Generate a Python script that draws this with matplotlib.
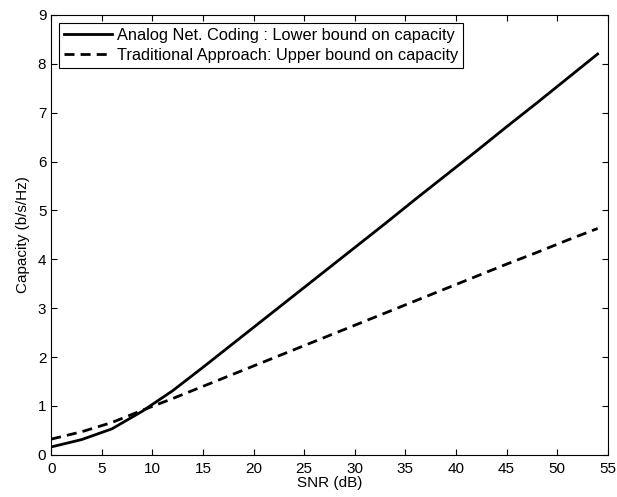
import numpy as np
from matplotlib import pyplot as plt

plt.rcParams['font.family'] = ['Liberation Sans', 'DejaVu Sans']

# SNR grid (dB) and capacities
snr_db = [0, 3, 6, 9, 12, 15, 18, 21, 24, 27, 30, 33, 36, 39, 42, 45, 48, 51, 54]
anc_lower = [0.16, 0.31, 0.53, 0.89, 1.31, 1.79, 2.28, 2.77, 3.26, 3.75,
             4.24, 4.73, 5.23, 5.72, 6.21, 6.71, 7.20, 7.70, 8.20]
trad_upper = [0.32, 0.47, 0.66, 0.91, 1.15, 1.40, 1.65, 1.90, 2.15, 2.40,
              2.65, 2.90, 3.15, 3.40, 3.65, 3.90, 4.14, 4.39, 4.63]

fig = plt.figure(figsize=(6.17, 4.97), dpi=100)
ax = fig.add_axes([0.083, 0.085, 0.902, 0.885])

ax.plot(snr_db, anc_lower, 'k-', lw=2, label='Analog Net. Coding : Lower bound on capacity')
ax.plot(snr_db, trad_upper, 'k--', lw=2, dashes=(3.6, 2.2),
        label='Traditional Approach: Upper bound on capacity')

ax.set_xlim(0, 55)
ax.set_ylim(0, 9)
ax.set_xticks(np.arange(0, 56, 5))
ax.set_yticks(np.arange(0, 10, 1))
ax.tick_params(direction='in', top=True, right=True, labelsize=11, length=4)
ax.tick_params(axis='x', pad=5)
ax.set_xlabel('SNR (dB)', fontsize=11, labelpad=0)
ax.set_ylabel('Capacity (b/s/Hz)', fontsize=11, labelpad=6)

leg = ax.legend(loc='upper left', fontsize=11.8, fancybox=False, framealpha=1,
                edgecolor='k', borderaxespad=0.5, handlelength=2.9,
                borderpad=0.3, labelspacing=0.28, handletextpad=0.3)
leg.get_frame().set_linewidth(0.8)

fig.savefig('out.png', dpi=100)
